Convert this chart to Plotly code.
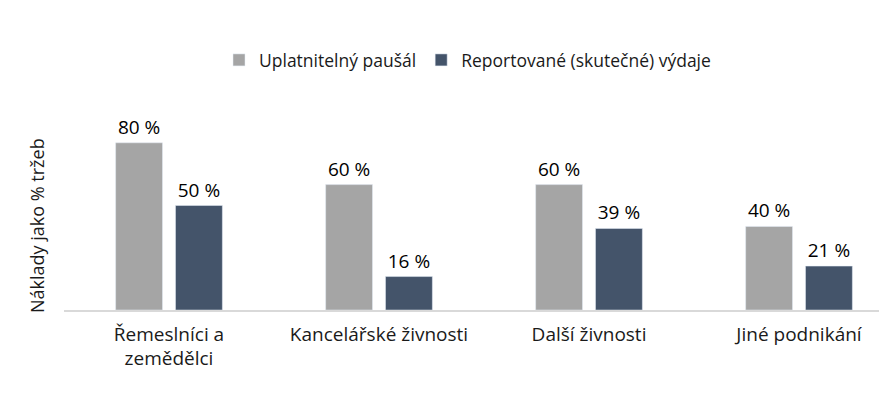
import plotly.graph_objects as go

categories = ["Řemeslníci a<br>zemědělci", "Kancelářské živnosti", "Další živnosti", "Jiné podnikání"]
pausal = [80, 60, 60, 40]
reported = [50, 16, 39, 21]
series_names = ["Uplatnitelný paušál", "Reportované (skutečné) výdaje"]

FONT = "Open Sans"
TXT = "#1a1a1a"
fig = go.Figure()
fig.add_trace(go.Bar(x=categories, y=pausal, name=series_names[0], marker_color="#A5A5A5",
                     text=[f"{v} %" for v in pausal], textposition="outside",
                     textfont=dict(size=19, color="#000000"), cliponaxis=False))
fig.add_trace(go.Bar(x=categories, y=reported, name=series_names[1], marker_color="#44546A",
                     text=[f"{v} %" for v in reported], textposition="outside",
                     textfont=dict(size=19, color="#000000"), cliponaxis=False))

# page has an 8px body margin: figure is sized/placed to compensate
fig.update_layout(
    width=879, height=385,
    margin=dict(l=56, r=0, t=93, b=83),
    paper_bgcolor="white", plot_bgcolor="white",
    font=dict(family=FONT, size=19, color=TXT),
    barmode="group", bargap=0.43, bargroupgap=0.217,
    showlegend=True,
    legend=dict(orientation="h", x=0.5 - 8 / 823, xanchor="center", y=1.196, yanchor="middle",
                font=dict(size=17.5, color=TXT), itemwidth=30, traceorder="normal"),
    xaxis=dict(range=[-0.5, 3.419], showline=True, linecolor="#D9D9D9", linewidth=1.5,
               ticks="", ticklabelstandoff=6, tickfont=dict(size=19, color=TXT),
               showgrid=False, automargin=False),
    yaxis=dict(range=[0, 100], showticklabels=False, showgrid=False, zeroline=False, automargin=False),
    annotations=[dict(text="Náklady jako % tržeb", xref="paper", yref="paper",
                      x=-27 / 823, y=(302 - 218) / 209, xanchor="center", yanchor="middle",
                      textangle=-90, showarrow=False, font=dict(size=18, color=TXT))],
)
fig.write_html("out.html")
